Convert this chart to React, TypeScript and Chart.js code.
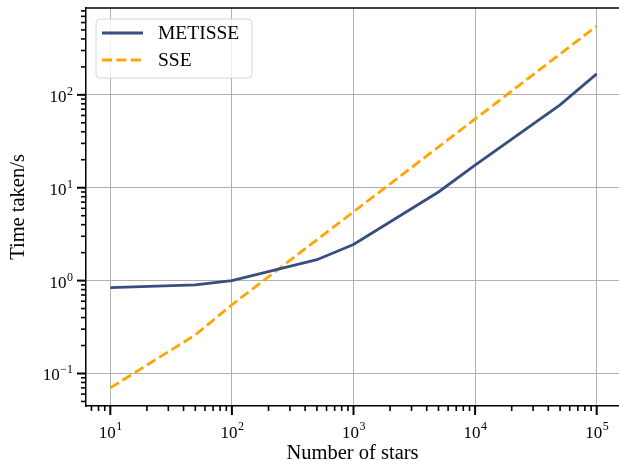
import React, { useEffect, useRef } from 'react';
import { Chart, registerables } from 'chart.js';

Chart.register(...registerables);

// ---- data ----
const nStars = [10, 50, 100, 500, 1000, 5000, 10000, 50000, 100000];
const metisseTime = [0.84, 0.9, 1.0, 1.68, 2.45, 9.0, 17.5, 78, 168];
const sseTime = [0.07, 0.26, 0.55, 2.75, 5.5, 27.5, 55, 275, 550];
const seriesNames = ['METISSE', 'SSE'];
const xDecades = [1, 2, 3, 4, 5];
const yDecades = [-1, 0, 1, 2];
const xLabel = 'Number of stars';
const yLabel = 'Time taken/s';

const X_MIN = Math.pow(10, 0.8);
const X_MAX = Math.pow(10, 5.2);
const Y_MIN = Math.pow(10, -1.35);
const Y_MAX = Math.pow(10, 2.935);

const FONT = '"Liberation Serif", "DejaVu Serif", serif';
const BLUE = '#384d80';
const ORANGE = '#ffa500';

function logTicks(min: number, max: number): number[] {
  const out: number[] = [];
  for (let d = -3; d <= 6; d++) {
    for (let m = 1; m <= 9; m++) {
      const v = m * Math.pow(10, d);
      if (v >= min * 0.9999 && v <= max * 1.0001) out.push(v);
    }
  }
  return out;
}

function isDecade(v: number | undefined): boolean {
  if (v === undefined || v <= 0) return false;
  const l = Math.log10(v);
  return Math.abs(l - Math.round(l)) < 1e-6;
}

function expText(e: number): string {
  return e < 0 ? '\u2212' + Math.abs(e) : String(e);
}

const decorPlugin = {
  id: 'decor',
  afterDraw(chart: any) {
    const ctx = chart.ctx as CanvasRenderingContext2D;
    const ca = chart.chartArea;
    const xs = chart.scales.x;
    const ys = chart.scales.y;
    ctx.save();
    // top spine
    ctx.strokeStyle = '#000';
    ctx.lineWidth = 1.5;
    ctx.beginPath();
    ctx.moveTo(ca.left - 0.75, ca.top);
    ctx.lineTo(ca.right, ca.top);
    ctx.stroke();

    // ticks
    ctx.lineCap = 'butt';
    for (const v of logTicks(X_MIN, X_MAX)) {
      const px = xs.getPixelForValue(v);
      const major = isDecade(v);
      ctx.lineWidth = major ? 2 : 1.6;
      ctx.beginPath();
      ctx.moveTo(px, ca.bottom);
      ctx.lineTo(px, ca.bottom + (major ? 9 : 5));
      ctx.stroke();
    }
    for (const v of logTicks(Y_MIN, Y_MAX)) {
      const py = ys.getPixelForValue(v);
      const major = isDecade(v);
      ctx.lineWidth = major ? 2 : 1.6;
      ctx.beginPath();
      ctx.moveTo(ca.left, py);
      ctx.lineTo(ca.left - (major ? 9 : 5), py);
      ctx.stroke();
    }

    // tick labels
    const mainFont = `17px ${FONT}`;
    const expFont = `12px ${FONT}`;
    ctx.fillStyle = '#000';
    ctx.textBaseline = 'alphabetic';
    for (const d of xDecades) {
      const px = xs.getPixelForValue(Math.pow(10, d));
      ctx.font = mainFont;
      const w1 = ctx.measureText('10').width;
      ctx.font = expFont;
      const w2 = ctx.measureText(expText(d)).width;
      const start = px - (w1 + w2) / 2;
      ctx.font = mainFont;
      ctx.textAlign = 'left';
      ctx.fillText('10', start, 438);
      ctx.font = expFont;
      ctx.fillText(expText(d), start + w1 + 0.5, 430);
    }
    for (const d of yDecades) {
      const py = ys.getPixelForValue(Math.pow(10, d));
      const right = ca.left - 13;
      ctx.font = expFont;
      const w2 = ctx.measureText(expText(d)).width;
      ctx.textAlign = 'left';
      ctx.fillText(expText(d), right - w2, py);
      ctx.font = mainFont;
      const w1 = ctx.measureText('10').width;
      ctx.fillText('10', right - w2 - 0.5 - w1, py + 7);
    }

    // axis titles
    ctx.font = `20.5px ${FONT}`;
    ctx.textAlign = 'center';
    ctx.fillText(xLabel, (ca.left + 619) / 2, 459);
    ctx.save();
    ctx.translate(24, (ca.top + ca.bottom) / 2);
    ctx.rotate(-Math.PI / 2);
    ctx.fillText(yLabel, 0, 0);
    ctx.restore();

    // legend
    const bx = 96, by = 19, bw = 156, bh = 59, r = 4;
    ctx.beginPath();
    ctx.moveTo(bx + r, by);
    ctx.lineTo(bx + bw - r, by);
    ctx.arcTo(bx + bw, by, bx + bw, by + r, r);
    ctx.lineTo(bx + bw, by + bh - r);
    ctx.arcTo(bx + bw, by + bh, bx + bw - r, by + bh, r);
    ctx.lineTo(bx + r, by + bh);
    ctx.arcTo(bx, by + bh, bx, by + bh - r, r);
    ctx.lineTo(bx, by + r);
    ctx.arcTo(bx, by, bx + r, by, r);
    ctx.closePath();
    ctx.fillStyle = 'rgba(255,255,255,0.8)';
    ctx.fill();
    ctx.strokeStyle = '#d6d6d6';
    ctx.lineWidth = 1;
    ctx.stroke();

    const rows = [33, 60];
    chart.data.datasets.forEach((ds: any, i: number) => {
      const y = rows[i];
      ctx.strokeStyle = ds.borderColor;
      ctx.lineWidth = ds.borderWidth;
      ctx.setLineDash(ds.borderDash || []);
      ctx.beginPath();
      ctx.moveTo(102, y);
      ctx.lineTo(143, y);
      ctx.stroke();
      ctx.setLineDash([]);
      ctx.fillStyle = '#000';
      ctx.font = `19.5px ${FONT}`;
      ctx.textAlign = 'left';
      ctx.textBaseline = 'middle';
      ctx.fillText(ds.label, 158, y + 1);
    });
    ctx.restore();
  },
};

export default function App() {
  const ref = useRef<HTMLCanvasElement | null>(null);

  useEffect(() => {
    if (!ref.current) return;
    const gridColor = (c: any) => (isDecade(c.tick?.value) ? '#b0b0b0' : 'rgba(0,0,0,0)');
    const chart = new Chart(ref.current, {
      type: 'line',
      data: {
        datasets: [
          {
            label: seriesNames[0],
            data: nStars.map((x, i) => ({ x, y: metisseTime[i] })),
            borderColor: BLUE,
            backgroundColor: BLUE,
            borderWidth: 2.8,
            pointRadius: 0,
            tension: 0,
            fill: false,
          },
          {
            label: seriesNames[1],
            data: nStars.map((x, i) => ({ x, y: sseTime[i] })),
            borderColor: ORANGE,
            backgroundColor: ORANGE,
            borderWidth: 2.8,
            borderDash: [10, 4.4],
            pointRadius: 0,
            tension: 0,
            fill: false,
          },
        ],
      },
      options: {
        animation: false,
        responsive: false,
        maintainAspectRatio: false,
        layout: { padding: { top: 8, left: 0, right: 0, bottom: 0 } },
        plugins: { legend: { display: false }, tooltip: { enabled: false } },
        scales: {
          x: {
            type: 'logarithmic',
            position: 'bottom',
            min: X_MIN,
            max: X_MAX,
            afterBuildTicks: (s: any) => {
              s.ticks = logTicks(X_MIN, X_MAX).map((v) => ({ value: v }));
            },
            afterFit: (s: any) => {
              s.height = 55;
            },
            ticks: { display: false },
            grid: { drawTicks: false, color: gridColor, lineWidth: 1 },
            border: { display: true, color: '#000', width: 1.5 },
          },
          y: {
            type: 'logarithmic',
            position: 'left',
            min: Y_MIN,
            max: Y_MAX,
            afterBuildTicks: (s: any) => {
              s.ticks = logTicks(Y_MIN, Y_MAX).map((v) => ({ value: v }));
            },
            afterFit: (s: any) => {
              s.width = 86;
            },
            ticks: { display: false },
            grid: { drawTicks: false, color: gridColor, lineWidth: 1 },
            border: { display: true, color: '#000', width: 1.5 },
          },
        },
      } as any,
      plugins: [decorPlugin as any],
    });
    return () => chart.destroy();
  }, []);

  return (
    <div
      style={{
        position: 'fixed',
        left: 0,
        top: 0,
        width: 619,
        height: 461,
        overflow: 'hidden',
        background: '#fff',
      }}
    >
      <canvas ref={ref} width={621} height={461} style={{ display: 'block', width: 621, height: 461 }} />
    </div>
  );
}
